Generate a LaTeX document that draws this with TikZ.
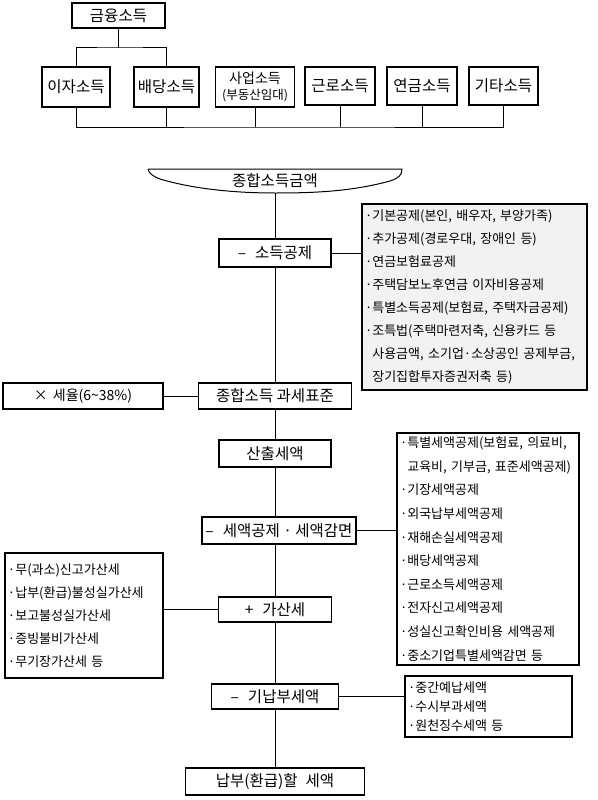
\documentclass[tikz,border=0pt]{standalone}
\usepackage{fontspec}
\setmainfont{Noto Sans CJK KR}
\usepackage{tikz}

\begin{document}
\begin{tikzpicture}[x=1pt,y=-1pt,
    mainbox/.style={draw, line width=1.8pt, fill=white, inner sep=0pt, font=\fontsize{15.5}{18}\selectfont},
    listbox/.style={draw, line width=1.5pt, fill=white, inner xsep=3pt, inner ysep=0pt, align=left},
    link/.style={line width=1pt}]
    \useasboundingbox (0,0) rectangle (597,800);

    % Income sources
    \node[mainbox, minimum width=93, minimum height=25] (fin) at (118.5,15.5) {금융소득};
    \node[mainbox, minimum width=68, minimum height=40] (ija) at (76,87) {이자소득};
    \node[mainbox, minimum width=65, minimum height=40] (baedang) at (166.5,87) {배당소득};
    \node[mainbox, minimum width=79, minimum height=40, align=center, font=\fontsize{14}{16}\selectfont] (saeop) at (255,87) {사업소득\\{\fontsize{12.5}{15}\selectfont(부동산임대)}};
    \node[mainbox, minimum width=70, minimum height=38] (geunro) at (340,86) {근로소득};
    \node[mainbox, minimum width=70, minimum height=38] (yeongeum) at (422,86) {연금소득};
    \node[mainbox, minimum width=69, minimum height=38] (gita) at (503.5,86) {기타소득};

    \coordinate (split) at (118.5,48);
    \coordinate (bus) at (289,127);
    \draw[link] (fin) -- (split);
    \draw[link] (ija) |- (split) -| (baedang);
    \draw[link] (ija) |- (bus) -| (gita);
    \foreach \n in {baedang,saeop,geunro,yeongeum}
        \draw[link] (\n) -- (\n |- bus);

    % Banner for the total
    \draw[line width=1pt] (148,169) -- (402,169) .. controls (402,175) and (399,178) .. (390,181)
        .. controls (350,192) and (310,193) .. (275,193) .. controls (230,193) and (190,188) .. (160,179)
        .. controls (152,176) and (149,173) .. (148,169);
    \node[font=\fontsize{15.5}{18}\selectfont] (total) at (275,181) {종합소득금액};
    \coordinate (totalbot) at (275,193);

    % Main steps
    \node[mainbox, minimum width=112, minimum height=28] (sodeuk) at (275,253) {–\hspace{9pt}소득공제};
    \node[mainbox, minimum width=153, minimum height=26] (gwase) at (275,396) {종합소득 과세표준};
    \node[mainbox, minimum width=112, minimum height=27] (sanchul) at (275,453.5) {산출세액};
    \node[mainbox, minimum width=154, minimum height=27] (seaek) at (279,530.5) {–\hspace{9pt}세액공제 · 세액감면};
    \node[mainbox, minimum width=113, minimum height=25] (gasan) at (275,609.5) {+\hspace{9pt}가산세};
    \node[mainbox, minimum width=127, minimum height=25] (ginap) at (275,696.5) {–\hspace{9pt}기납부세액};
    \node[mainbox, minimum width=179, minimum height=27] (final) at (275,781.5) {납부(환급)할\hspace{8pt}세액};
    \node[mainbox, minimum width=160, minimum height=26, font=\fontsize{14}{17}\selectfont] (rate) at (83,396) {×\hspace{5pt}세율(6\textasciitilde 38\%)};

    \draw[link] (totalbot) -- (sodeuk);
    \foreach \a/\b in {sodeuk/gwase, gwase/sanchul, sanchul/seaek, seaek/gasan, gasan/ginap, ginap/final}
        \draw[link] (\a.south -| 275,0) -- (\b.north -| 275,0);
    \draw[link] (rate) -- (gwase);

    % Side lists
    \node[listbox, fill=gray!10, text width=219, minimum height=186, font=\fontsize{13}{23}\selectfont] (deduct) at (474.5,297) {·기본공제(본인, 배우자, 부양가족)\\
        ·추가공제(경로우대, 장애인 등)\\
        ·연금보험료공제\\
        ·주택담보노후연금 이자비용공제\\
        ·특별소득공제(보험료, 주택자금공제)\\
        ·조특법(주택마련저축, 신용카드 등\\
        \phantom{·}사용금액, 소기업·소상공인 공제부금,\\
        \phantom{·}장기집합투자증권저축 등)};
    \node[listbox, text width=176, minimum height=232, font=\fontsize{13}{23.6}\selectfont] (credit) at (488,549) {·특별세액공제(보험료, 의료비,\\
        \phantom{·}교육비, 기부금, 표준세액공제)\\
        ·기장세액공제\\
        ·외국납부세액공제\\
        ·재해손실세액공제\\
        ·배당세액공제\\
        ·근로소득세액공제\\
        ·전자신고세액공제\\
        ·성실신고확인비용 세액공제\\
        ·중소기업특별세액감면 등};
    \node[listbox, text width=152, minimum height=125, font=\fontsize{13}{23}\selectfont] (penalty) at (84,615.5) {·무(과소)신고가산세\\
        ·납부(환급)불성실가산세\\
        ·보고불성실가산세\\
        ·증빙불비가산세\\
        ·무기장가산세 등};
    \node[listbox, text width=161, minimum height=61, font=\fontsize{13}{19}\selectfont] (prepaid) at (488.5,706.5) {·중간예납세액\\
        ·수시부과세액\\
        ·원천징수세액 등};

    \draw[link] (sodeuk.east) -- (sodeuk.east -| deduct.west);
    \draw[link] (seaek.east) -- (seaek.east -| credit.west);
    \draw[link] (gasan.west) -- (gasan.west -| penalty.east);
    \draw[link] (ginap.east) -- (ginap.east -| prepaid.west);
\end{tikzpicture}
\end{document}
